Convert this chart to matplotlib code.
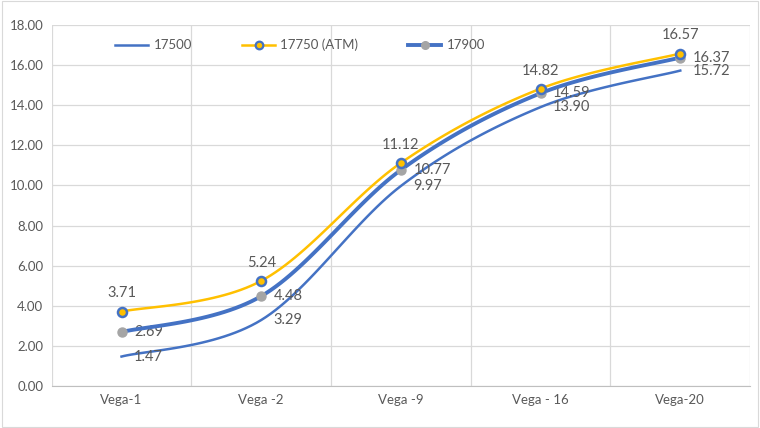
import numpy as np
import matplotlib
matplotlib.use("Agg")
import matplotlib.pyplot as plt
from matplotlib.lines import Line2D

categories = ["Vega-1", "Vega -2", "Vega -9", "Vega - 16", "Vega-20"]
s17500 = [1.47, 3.29, 9.97, 13.90, 15.72]
s17750 = [3.71, 5.24, 11.12, 14.82, 16.57]
s17900 = [2.69, 4.48, 10.77, 14.59, 16.37]
yticks = [0, 2, 4, 6, 8, 10, 12, 14, 16, 18]

plt.rcParams['font.family'] = ['Lato', 'DejaVu Sans']

fig = plt.figure(figsize=(7.6, 4.28), dpi=100)
ax = fig.add_axes([0.068, 0.098, 0.919, 0.844])

def smooth(xs, ys, n=30):
    xs = np.asarray(xs, float); ys = np.asarray(ys, float)
    P = np.column_stack([xs, ys])
    out = [P[0]]
    for i in range(len(P) - 1):
        p0 = P[i - 1] if i > 0 else P[i]
        p1 = P[i]; p2 = P[i + 1]
        p3 = P[i + 2] if i + 2 < len(P) else P[i + 1]
        c1 = p1 + (p2 - p0) / 6.0
        c2 = p2 - (p3 - p1) / 6.0
        t = np.linspace(0, 1, n)[1:, None]
        pts = ((1 - t) ** 3) * p1 + 3 * ((1 - t) ** 2) * t * c1 + 3 * (1 - t) * t ** 2 * c2 + t ** 3 * p2
        out.extend(pts)
    out = np.array(out)
    return out[:, 0], out[:, 1]

x = np.arange(len(categories))
blue = "#4472C4"
yellow = "#FFC000"
gray = "#A5A5A5"

sx, sy = smooth(x, s17500)
ax.plot(sx, sy, color=blue, lw=1.8, zorder=3)
sx, sy = smooth(x, s17900)
ax.plot(sx, sy, color=blue, lw=2.8, zorder=4)
ax.plot(x, s17900, ls='none', marker='o', ms=6.5, mfc=gray, mec=gray, zorder=6)
sx, sy = smooth(x, s17750)
ax.plot(sx, sy, color=yellow, lw=1.8, zorder=5)
ax.plot(x, s17750, ls='none', marker='o', ms=6.5, mfc=yellow, mec=blue, mew=1.8, zorder=7)

lc = "#595959"
fs = 10.5
for xi, v in zip(x, s17500):
    ax.annotate(f"{v:.2f}", (xi, v), xytext=(9, 0), textcoords='offset points',
                ha='left', va='center', fontsize=fs, color=lc)
for xi, v in zip(x, s17900):
    ax.annotate(f"{v:.2f}", (xi, v), xytext=(9, 0), textcoords='offset points',
                ha='left', va='center', fontsize=fs, color=lc)
for xi, v in zip(x, s17750):
    ax.annotate(f"{v:.2f}", (xi, v), xytext=(0, 8), textcoords='offset points',
                ha='center', va='bottom', fontsize=fs, color=lc)

ax.set_xlim(-0.5, 4.5)
ax.set_ylim(0, 18)
ax.set_yticks(yticks)
ax.set_yticklabels([f"{v:.2f}" for v in yticks])
ax.set_xticks(x)
ax.set_xticklabels(categories)
ax.set_xticks(np.arange(-0.5, 5, 1), minor=True)
ax.grid(True, axis='y', color="#D9D9D9", lw=0.9)
ax.grid(True, axis='x', which='minor', color="#D9D9D9", lw=0.9)
ax.tick_params(axis='both', which='both', length=0, labelsize=9.5, colors=lc, pad=6)
for s in ['top', 'right', 'left']:
    ax.spines[s].set_visible(False)
ax.spines['bottom'].set_color("#BFBFBF")
ax.set_axisbelow(True)

handles = [Line2D([], [], color=blue, lw=1.8),
           Line2D([], [], color=yellow, lw=1.8, marker='o', ms=5.5, mfc=yellow, mec=blue, mew=1.6),
           Line2D([], [], color=blue, lw=2.8, marker='o', ms=5.5, mfc=gray, mec=gray)]
leg = fig.legend(handles, ["17500", "17750 (ATM)", "17900"], loc='center',
                 bbox_to_anchor=(0.395, 0.895), ncol=3, frameon=False, fontsize=9.5,
                 labelcolor=lc, handlelength=2.5, columnspacing=3.8, handletextpad=0.4)

fig.patches.append(matplotlib.patches.Rectangle((0.002, 0.003), 0.996, 0.994, transform=fig.transFigure,
                                                fill=False, ec="#D9D9D9", lw=0.8))
fig.savefig("out.png", dpi=100)
